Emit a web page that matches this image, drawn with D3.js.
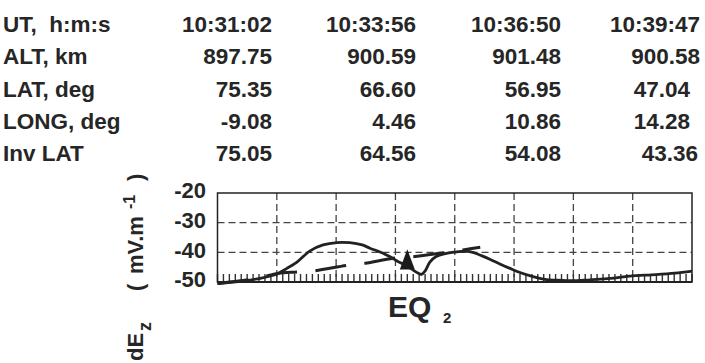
<!DOCTYPE html>
<html>
<head>
<meta charset="utf-8">
<script src="https://cdn.jsdelivr.net/npm/d3@7/dist/d3.min.js"></script>
<style>
  html, body { margin: 0; padding: 0; background: #fff; }
  svg text { font-family: "Liberation Sans", Arial, sans-serif; font-weight: bold; fill: #262626; white-space: pre; }
</style>
</head>
<body>
<svg id="chart" width="705" height="363"></svg>
<script>
// ---------- data ----------
const rowLabels = ["UT,  h:m:s", "ALT, km", "LAT, deg", "LONG, deg", "Inv LAT"];
const utValues = ["10:31:02", "10:33:56", "10:36:50", "10:39:47"];
const altValues = ["897.75", "900.59", "901.48", "900.58"];
const latValues = ["75.35", "66.60", "56.95", "47.04"];
const longValues = ["-9.08", "4.46", "10.86", "14.28"];
const invLatValues = ["75.05", "64.56", "54.08", "43.36"];

const yTicks = [-20, -30, -40, -50];
const xGrid = [0, 1, 2, 3, 4, 5, 6, 7, 8];

// solid curve: [position, dEz]
const solidT = [0, 0.43, 0.72, 1.0, 1.17, 1.34, 1.56, 1.78, 2.01, 2.23, 2.44, 2.57, 2.74, 2.91, 3.04, 3.18, 3.30, 3.38, 3.44, 3.50, 3.58, 3.68, 3.84, 4.0, 4.19, 4.32, 4.46, 4.60, 4.76, 4.93, 5.10, 5.32, 5.52, 5.72, 5.89, 6.06, 6.28, 6.62, 6.95, 7.39, 7.71, 8.0];
const solidV = [-50.5, -49.66, -48.75, -47.3, -45.4, -43.3, -39.5, -37.5, -36.7, -36.75, -37.5, -38.6, -39.9, -41.5, -43.1, -44.4, -46.0, -47.0, -47.4, -46.3, -43.3, -41.5, -40.4, -39.9, -39.6, -40.1, -41.2, -42.4, -43.9, -45.4, -46.8, -48.2, -49.1, -49.4, -49.56, -49.56, -49.25, -48.8, -48.0, -47.5, -47.0, -46.3];

// dashed curve
const dashT = [0, 0.43, 0.72, 1.02, 1.34, 1.64, 2.18, 2.49, 2.96, 3.33, 3.87, 4.14, 4.43];
const dashV = [-50.5, -49.5, -48.5, -47.1, -46.6, -46.2, -44.4, -43.7, -42.0, -41.4, -40.05, -39.2, -38.3];

// triangle marker: position, base value, apex value
const markerT = [3.2];
const markerBase = [-45.8];
const markerTop = [-39.0];

// ---------- layout ----------
const svg = d3.select("#chart");
const colRight = [272, 416, 561, 700];
const rowBase = [32, 64, 97, 129, 161];
const tableRows = [utValues, altValues, latValues, longValues, invLatValues];
const col4Shift = [0, 0, -10, -10, -2];

rowLabels.forEach((lab, i) => {
  svg.append("text").attr("x", 3).attr("y", rowBase[i])
    .attr("font-size", 22.5).text(lab);
  tableRows[i].forEach((v, j) => {
    svg.append("text")
      .attr("x", colRight[j] + (j === 3 ? col4Shift[i] : 0))
      .attr("y", rowBase[i])
      .attr("text-anchor", "end")
      .attr("font-size", 22.5).text(v);
  });
});

const x = d3.scaleLinear().domain([0, 8]).range([217.5, 692]);
const y = d3.scaleLinear().domain([-50, -20]).range([282, 193]);

// grid
const g = svg.append("g");
g.selectAll(".vg").data(xGrid.slice(1, -1)).enter().append("line")
  .attr("x1", d => x(d)).attr("x2", d => x(d))
  .attr("y1", y(-20)).attr("y2", y(-50))
  .attr("stroke", "#444").attr("stroke-width", 1.3).attr("stroke-dasharray", "7,4");
g.selectAll(".hg").data([-30, -40]).enter().append("line")
  .attr("x1", x(0)).attr("x2", x(8))
  .attr("y1", d => y(d)).attr("y2", d => y(d))
  .attr("stroke", "#444").attr("stroke-width", 1.3).attr("stroke-dasharray", "7,4");

// minor ticks along bottom
const minor = d3.range(0, 80.5, 1).map(d => d / 10);
g.selectAll(".mt").data(minor).enter().append("line")
  .attr("x1", d => x(d)).attr("x2", d => x(d))
  .attr("y1", y(-50)).attr("y2", y(-50) - 8)
  .attr("stroke", "#333").attr("stroke-width", 1.4);

// box
g.append("rect").attr("x", x(0)).attr("y", y(-20))
  .attr("width", x(8) - x(0)).attr("height", y(-50) - y(-20))
  .attr("fill", "none").attr("stroke", "#222").attr("stroke-width", 1.5);
g.append("line").attr("x1", x(0)).attr("x2", x(8)).attr("y1", y(-50)).attr("y2", y(-50))
  .attr("stroke", "#222").attr("stroke-width", 2);

// y labels
yTicks.forEach(v => {
  svg.append("text").attr("x", 206).attr("y", y(v) - 2.5)
    .attr("dy", "0.36em").attr("text-anchor", "end")
    .attr("font-size", 22).text(String(v));
});

// curves
const line = d3.line().x(d => x(d[0])).y(d => y(d[1])).curve(d3.curveCatmullRom.alpha(0.5));
svg.append("path").datum(dashT.map((t, i) => [t, dashV[i]]))
  .attr("d", line).attr("fill", "none").attr("stroke", "#222")
  .attr("stroke-width", 3).attr("stroke-dasharray", "31,18.5");
svg.append("path").datum(solidT.map((t, i) => [t, solidV[i]]))
  .attr("d", line).attr("fill", "none").attr("stroke", "#222")
  .attr("stroke-width", 2.8).attr("stroke-linejoin", "round");

// triangle marker
markerT.forEach((t, i) => {
  const cx = x(t), yb = y(markerBase[i]), yt = y(markerTop[i]);
  svg.append("path").attr("d", `M${cx},${yt}L${cx + 7.5},${yb}L${cx - 7.5},${yb}Z`)
    .attr("fill", "#1a1a1a");
});

// EQ label
svg.append("text").attr("x", 388).attr("y", 317).attr("font-size", 30).text("EQ");
svg.append("text").attr("x", 443).attr("y", 323).attr("font-size", 15).text("2");

// y-axis title (rotated)
const yt = svg.append("g").attr("transform", "translate(143,0) rotate(-90)");
yt.append("text").attr("x", -361).attr("y", 0).attr("font-size", 22).text("dE");
yt.append("text").attr("x", -331).attr("y", 8).attr("font-size", 18).text("z");
yt.append("text").attr("x", -291).attr("y", 0).attr("font-size", 22).text("(");
yt.append("text").attr("x", -274).attr("y", 0).attr("font-size", 22).text("mV.m");
yt.append("text").attr("x", -209).attr("y", -8).attr("font-size", 16).text("-1");
yt.append("text").attr("x", -181).attr("y", 0).attr("font-size", 22).text(")");
</script>
</body>
</html>
